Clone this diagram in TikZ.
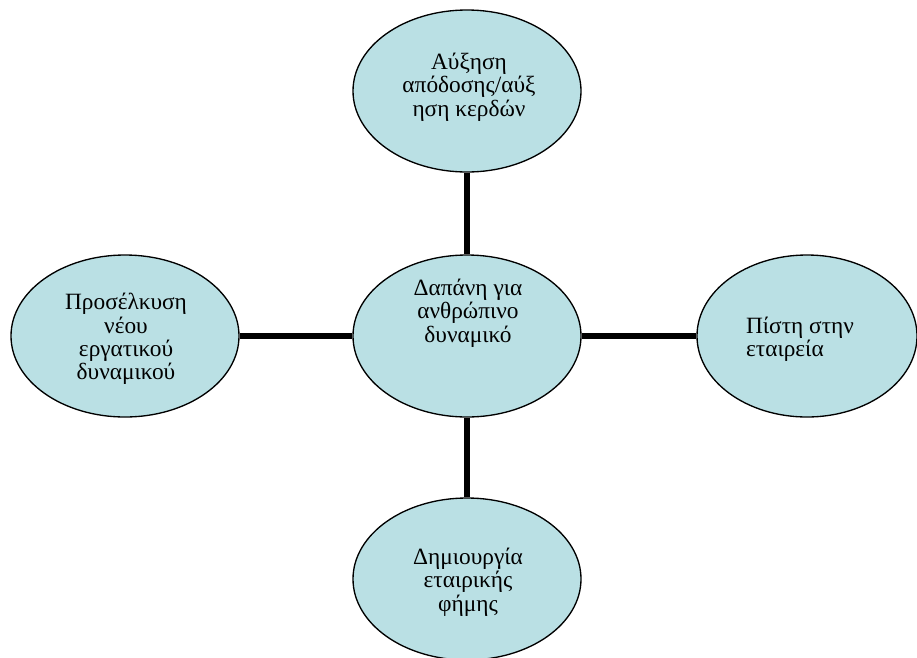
\documentclass[tikz,border=0pt]{standalone}
\usepackage{fontspec}
\setmainfont{Liberation Serif}
\usetikzlibrary{shapes.geometric}
\definecolor{bubblefill}{RGB}{186,224,228}
\begin{document}
\begin{tikzpicture}[x=0.75pt,y=-0.75pt,line join=round,
	bubble/.style={ellipse,draw=black,line width=1pt,fill=bubblefill,
		minimum width=171pt,minimum height=121.5pt,inner sep=0pt},
	bubbletext/.style={align=center,inner sep=0pt,
		font=\fontsize{17.5}{17.5}\selectfont},
	link/.style={line width=4pt}]
	\useasboundingbox (0,0) rectangle (917,657);
	\clip (0,0) rectangle (917,657);
	% ellipses
	\node[bubble] (cost) at (467,336) {};
	\node[bubble] (profit) at (467,91) {};
	\node[bubble] (staff) at (125,336) {};
	\node[bubble,minimum width=165pt] (trust) at (807,336) {};
	\node[bubble] (fame) at (467,579) {};
	% links
	\draw[link] (profit.south) -- (cost.north);
	\draw[link] (cost.south) -- (fame.north);
	\draw[link] (staff.east) -- (cost.west);
	\draw[link] (cost.east) -- (trust.west);
	% texts
	\node[bubbletext] (cost-text) at (468,313) {Δαπάνη για\\ανθρώπινο\\δυναμικό};
	\node[bubbletext] (profit-text) at (469,87) {Αύξηση\\απόδοσης/αύξ\\ηση κερδών};
	\node[bubbletext] (staff-text) at (126,339) {Προσέλκυση\\νέου\\εργατικού\\δυναμικού};
	\node[bubbletext,align=left] (trust-text) at (800,339) {Πίστη στην\\εταιρεία};
	\node[bubbletext] (fame-text) at (468,582) {Δημιουργία\\εταιρικής\\φήμης};
\end{tikzpicture}
\end{document}
